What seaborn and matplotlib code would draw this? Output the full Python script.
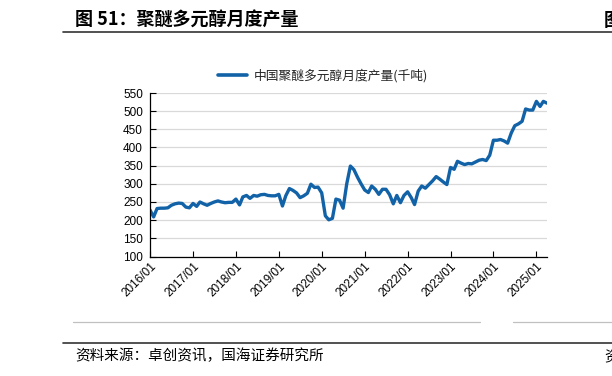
import numpy as np
import pandas as pd
import matplotlib
matplotlib.use('Agg')
import matplotlib.pyplot as plt
import matplotlib.dates as mdates
from matplotlib.lines import Line2D
import seaborn as sns

# ---------------- data ----------------
months = pd.date_range('2016-01-01', periods=112, freq='MS')
output_kt = [
    228, 209, 232, 233, 233, 234, 241, 245, 247, 246, 236, 234,   # 2016
    246, 238, 250, 245, 241, 246, 250, 253, 250, 248, 249, 249,   # 2017
    258, 242, 264, 268, 260, 268, 266, 270, 271, 268, 267, 267,   # 2018
    271, 239, 267, 287, 282, 275, 262, 267, 274, 299, 290, 291,   # 2019
    275, 212, 201, 205, 258, 255, 233, 300, 349, 339, 318, 300,   # 2020
    283, 276, 294, 285, 271, 285, 285, 270, 245, 268, 248, 268,   # 2021
    278, 262, 243, 280, 294, 288, 298, 308, 320, 313, 305, 298,   # 2022
    345, 340, 362, 357, 353, 356, 355, 360, 365, 367, 364, 379,   # 2023
    420, 420, 422, 418, 412, 440, 460, 465, 472, 506, 503, 503,   # 2024
    527, 513, 527, 522,                                           # 2025
]
series_name = '中国聚醚多元醇月度产量(千吨)'
y_ticks = [100, 150, 200, 250, 300, 350, 400, 450, 500, 550]
x_tick_years = list(range(2016, 2026))

df = pd.DataFrame({'month': months, 'value': output_kt})

# ---------------- style ----------------
sns.set_theme(style='white')
plt.rcParams['font.family'] = ['Liberation Sans', 'Noto Sans CJK SC', 'DejaVu Sans']
CJK = ['Noto Sans CJK SC', 'DejaVu Sans']
LINE_COLOR = '#1262a8'

W, H = 612, 376
fig = plt.figure(figsize=(W / 100, H / 100), dpi=100)
ax = fig.add_axes([150 / W, 1 - 256.5 / H, (547 - 150) / W, (256.5 - 93) / H])

sns.lineplot(data=df, x='month', y='value', ax=ax, color=LINE_COLOR,
             linewidth=2.4, label=series_name, legend=False)

ax.set_ylim(100, 550)
ax.set_yticks(y_ticks)
ax.set_xlim(months[0], months[-1])
ax.set_xticks([pd.Timestamp(f'{y}-01-01') for y in x_tick_years])
ax.xaxis.set_major_formatter(mdates.DateFormatter('%Y/%m'))
ax.set_xlabel('')
ax.set_ylabel('')

ax.grid(axis='y', color='#d9d9d9', linewidth=0.9)
ax.grid(axis='x', visible=False)
ax.set_axisbelow(True)
for s in ['top', 'right']:
    ax.spines[s].set_visible(False)
for s in ['left', 'bottom']:
    ax.spines[s].set_color('black')
    ax.spines[s].set_linewidth(0.9)

ax.tick_params(axis='y', direction='in', length=4, width=0.8, color='black',
               labelsize=8.5, labelcolor='black', pad=5, left=True)
ax.tick_params(axis='x', direction='in', length=4, width=0.8, color='black',
               labelsize=8.5, labelcolor='black', pad=3, bottom=True)
for lab in ax.get_xticklabels():
    lab.set_rotation(45)
    lab.set_ha('right')
    lab.set_va('top')
    lab.set_rotation_mode('anchor')

# legend
handle = Line2D([0], [0], color=LINE_COLOR, linewidth=2.6)
leg = fig.legend([handle], [series_name], loc='center',
                 bbox_to_anchor=(323 / W, 1 - 76 / H), frameon=False,
                 prop={'family': CJK, 'size': 9.2}, handlelength=2.3,
                 handletextpad=0.5)

# ---------------- page decorations ----------------
fig.text(75 / W, 1 - 20 / H, '图 51：聚醚多元醇月度产量', family=CJK,
         fontsize=13, fontweight='bold', va='center', ha='left', color='black')
fig.text(604 / W, 1 - 20 / H, '图', family=CJK, fontsize=13,
         fontweight='bold', va='center', ha='left', color='black')
fig.add_artist(Line2D([63 / W, 1.0], [1 - 32 / H, 1 - 32 / H],
                      color='#333333', linewidth=1.2))
fig.add_artist(Line2D([73 / W, 480 / W], [1 - 322 / H, 1 - 322 / H],
                      color='#c0c0c0', linewidth=0.9))
fig.add_artist(Line2D([513 / W, 1.0], [1 - 322 / H, 1 - 322 / H],
                      color='#c0c0c0', linewidth=0.9))
fig.add_artist(Line2D([63 / W, 1.0], [1 - 343 / H, 1 - 343 / H],
                      color='#333333', linewidth=1.2))
fig.text(75 / W, 1 - 356 / H, '资料来源：卓创资讯，国海证券研究所', family=CJK,
         fontsize=10.5, va='center', ha='left', color='black')
fig.text(604 / W, 1 - 356 / H, '资', family=CJK, fontsize=10.5,
         va='center', ha='left', color='black')

fig.savefig('out.png', dpi=100)
